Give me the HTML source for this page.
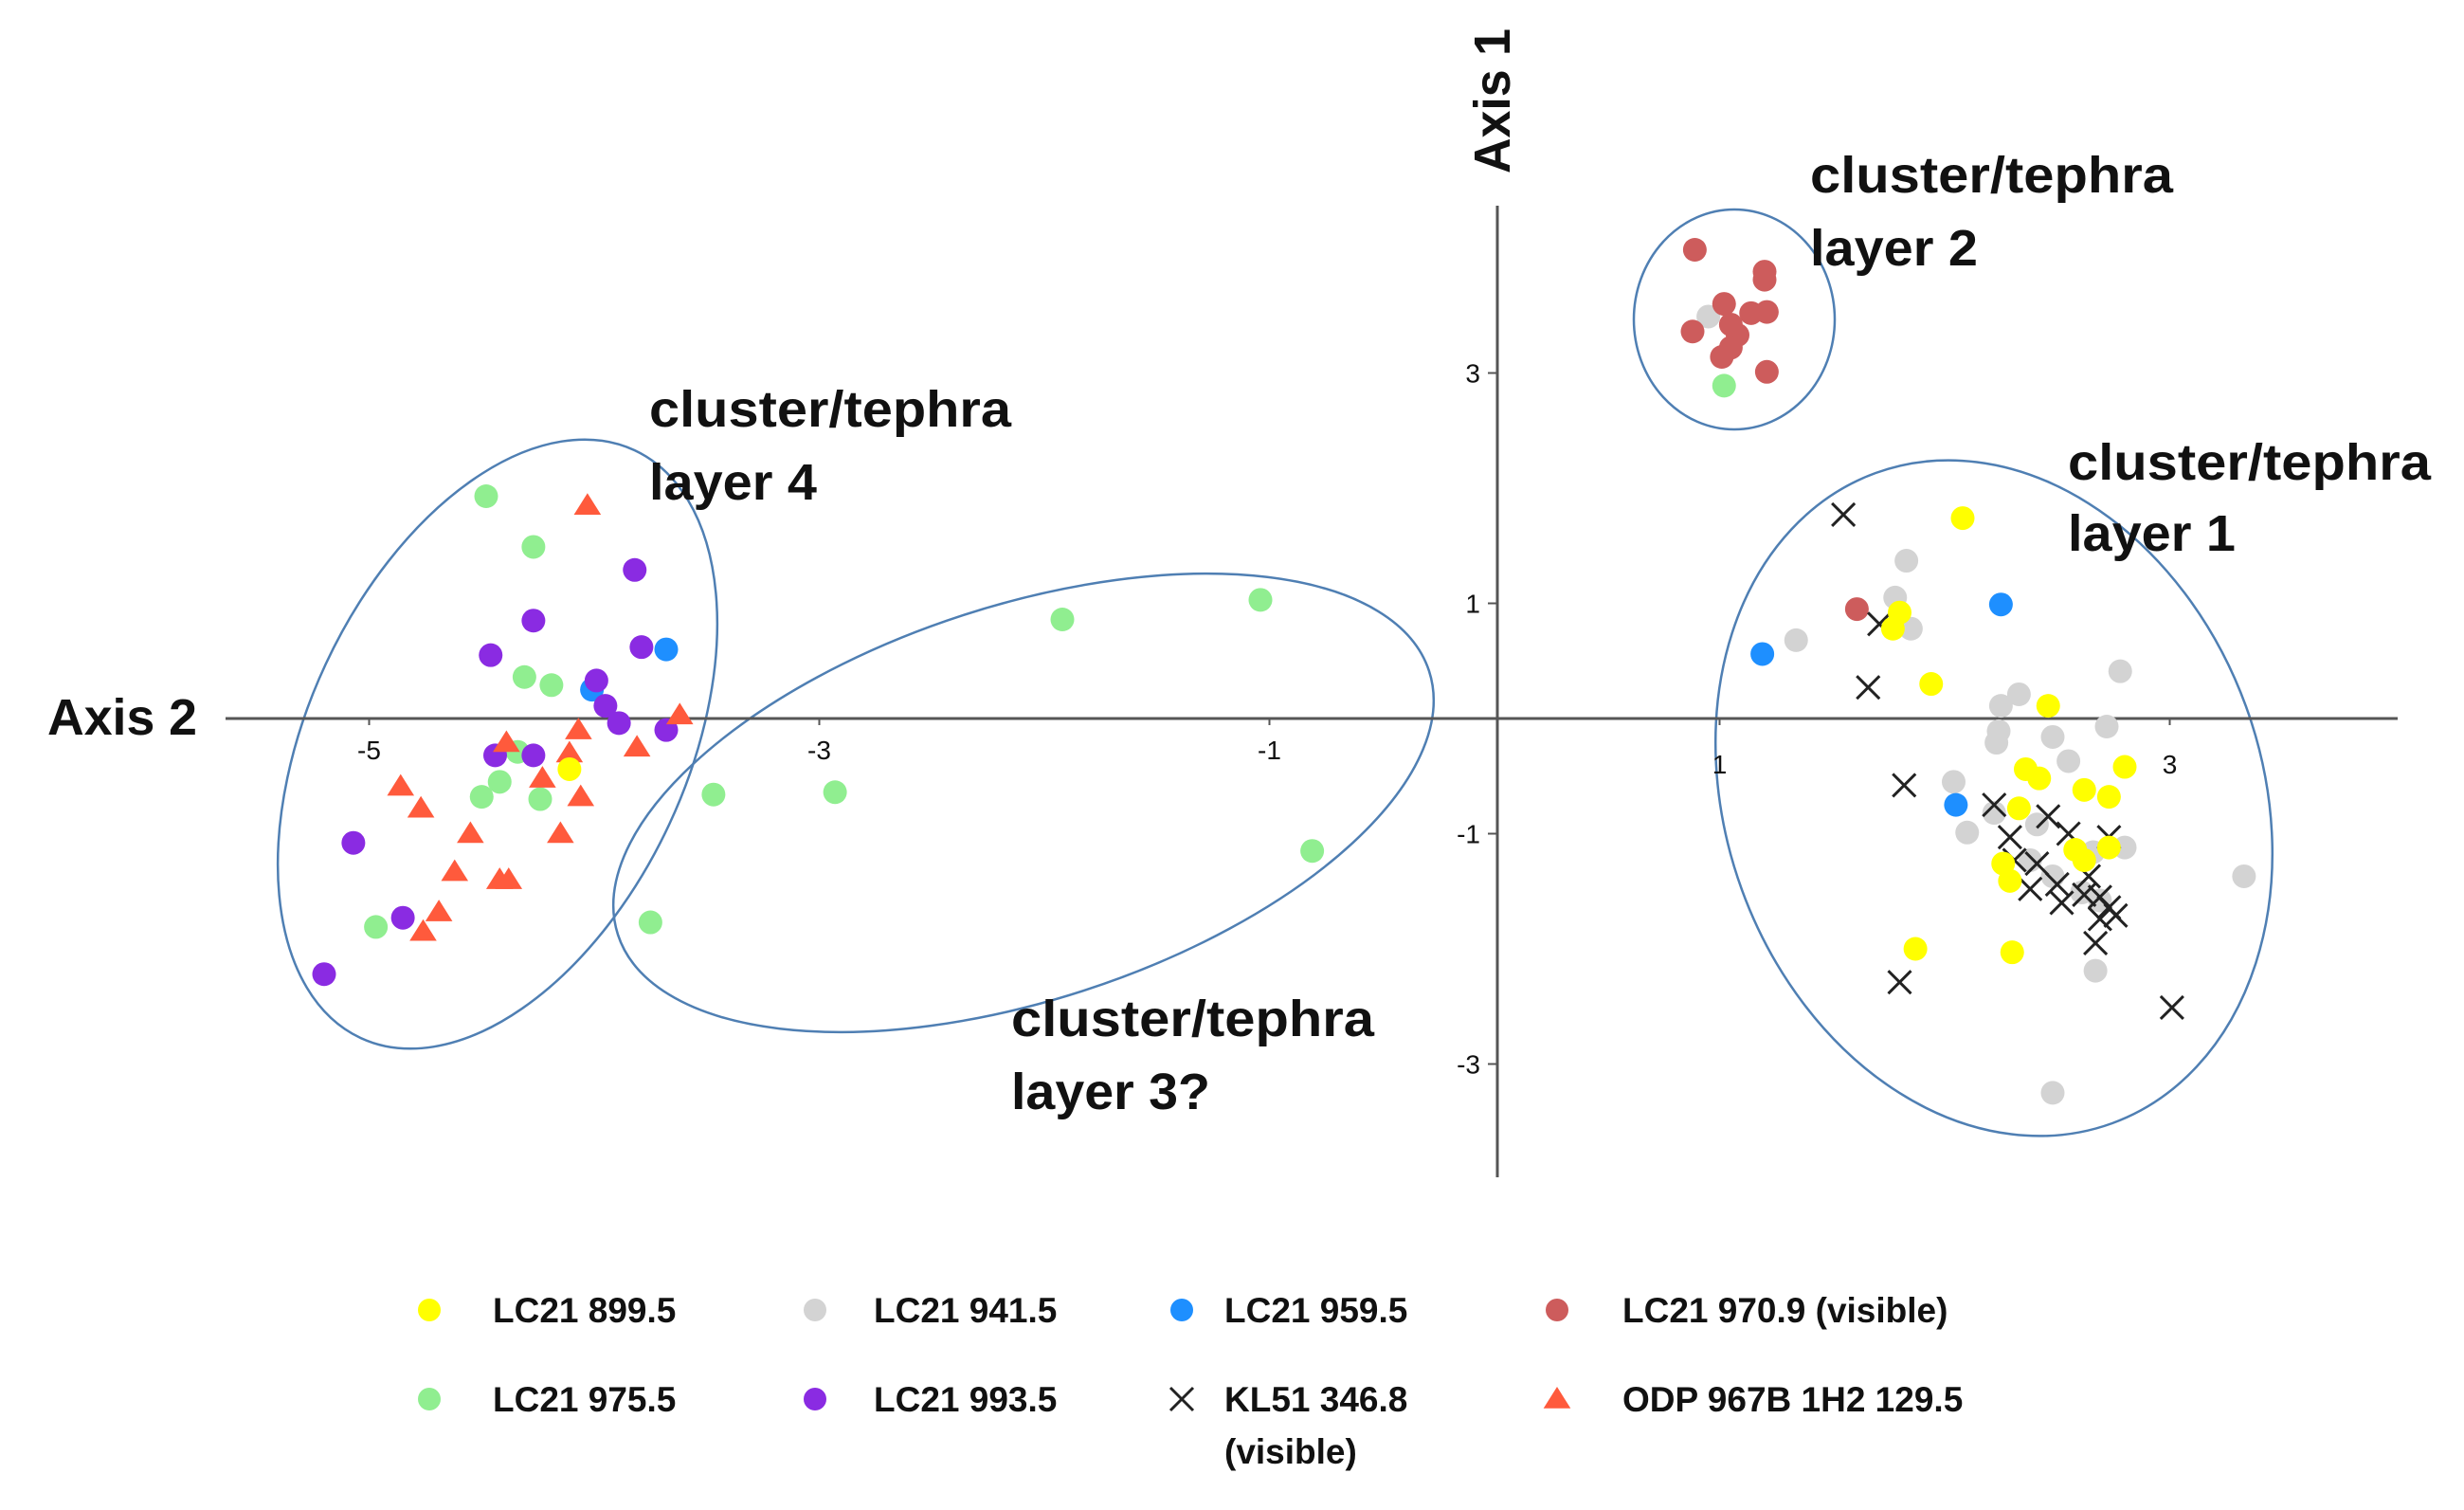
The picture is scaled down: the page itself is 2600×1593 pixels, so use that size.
<!DOCTYPE html>
<html><head><meta charset="utf-8"><style>
html,body{margin:0;padding:0;background:#fff;}
svg{display:block;font-family:"Liberation Sans",sans-serif;}
</style></head><body>
<svg id="chart" width="2600" height="1593" viewBox="0 0 2600 1593" xmlns="http://www.w3.org/2000/svg">
<g id="ellipses" fill="none" stroke="#4f7fb3" stroke-width="2.5">
 <ellipse cx="525" cy="785" rx="200" ry="342" transform="rotate(25 525 785)"/>
 <ellipse cx="1080" cy="847" rx="450" ry="208" transform="rotate(-18 1080 847)"/>
 <ellipse cx="1830" cy="337" rx="106" ry="116"/>
 <ellipse cx="2104" cy="842" rx="283" ry="365" transform="rotate(-20 2104 842)"/>
</g>
<g id="axes"></g>
<g id="marks"></g>
<g font-weight="bold" font-size="54" fill="#111">
 <text x="1910" y="203" textLength="383" lengthAdjust="spacingAndGlyphs">cluster/tephra</text>
 <text x="1910" y="280" textLength="177" lengthAdjust="spacingAndGlyphs">layer 2</text>
 <text x="685" y="450" textLength="382" lengthAdjust="spacingAndGlyphs">cluster/tephra</text>
 <text x="685" y="527" textLength="177" lengthAdjust="spacingAndGlyphs">layer 4</text>
 <text x="2182" y="506" textLength="383" lengthAdjust="spacingAndGlyphs">cluster/tephra</text>
 <text x="2182" y="581" textLength="177" lengthAdjust="spacingAndGlyphs">layer 1</text>
 <text x="1067" y="1093" textLength="383" lengthAdjust="spacingAndGlyphs">cluster/tephra</text>
 <text x="1067" y="1170" textLength="210" lengthAdjust="spacingAndGlyphs">layer 3?</text>
 <text x="50" y="775" textLength="158" lengthAdjust="spacingAndGlyphs">Axis 2</text>
 <text x="1593" y="183" transform="rotate(-90 1593 183)" textLength="153" lengthAdjust="spacingAndGlyphs">Axis 1</text>
</g>
<g id="legend" font-weight="bold" font-size="37" fill="#111"></g>
</svg>
<script>
const X0 = 1577, XU = 237.5, Y0 = 758, YU = 121.5;
function sx(v){ return X0 + v*XU; }
function sy(v){ return Y0 - v*YU; }

const xTicks = [-5,-3,-1,1,3];
const yTicks = [3,1,-1,-3];

const yellowX = [2.08,1.80,1.77,1.94,2.46,2.36,2.42,2.80,2.62,2.73,2.33,2.58,2.62,2.73,2.26,2.29,1.87,2.30,-4.11];
const yellowY = [1.74,0.92,0.78,0.30,0.11,-0.44,-0.52,-0.42,-0.62,-0.68,-0.78,-1.14,-1.23,-1.12,-1.26,-1.41,-2.00,-2.03,-0.44];
const grayX = [1.83,1.78,1.85,1.34,2.78,2.33,2.25,2.24,2.23,2.48,2.72,2.55,2.04,2.10,2.22,2.41,2.38,2.66,2.80,2.48,2.61,2.69,2.67,3.33,2.48,0.95];
const grayY = [1.37,1.05,0.78,0.68,0.41,0.21,0.11,-0.11,-0.21,-0.16,-0.07,-0.37,-0.55,-0.99,-0.82,-0.92,-1.23,-1.16,-1.12,-1.37,-1.51,-1.58,-2.19,-1.37,-3.25,3.49];
const blueX = [1.19,2.25,2.05,-3.68,-4.01];
const blueY = [0.56,0.99,-0.75,0.60,0.25];
const redX = [0.89,1.20,1.20,1.02,0.88,1.05,1.14,1.21,1.08,1.05,1.01,1.21,1.61];
const redY = [4.07,3.88,3.81,3.60,3.36,3.42,3.52,3.53,3.33,3.22,3.14,3.01,0.95];
const greenX = [1.02,-4.48,-4.27,-4.31,-4.19,-4.34,-4.42,-4.50,-4.24,-4.97,-3.75,-3.47,-2.93,-1.92,-1.04,-0.81];
const greenY = [2.89,1.93,1.49,0.36,0.29,-0.29,-0.55,-0.68,-0.70,-1.81,-1.77,-0.66,-0.64,0.86,1.03,-1.15];
const purpleX = [-3.82,-4.27,-4.46,-3.79,-3.99,-3.95,-3.89,-3.68,-4.44,-4.27,-5.07,-4.85,-5.20];
const purpleY = [1.29,0.85,0.55,0.62,0.33,0.11,-0.04,-0.10,-0.32,-0.32,-1.08,-1.73,-2.22];
const klX = [1.55,1.71,1.66,1.82,2.22,2.46,2.29,2.73,2.55,2.41,2.50,2.38,2.62,2.52,2.69,2.73,2.69,2.67,1.80,3.01,2.31,2.64,2.76];
const klY = [1.77,0.82,0.27,-0.58,-0.75,-0.85,-1.03,-1.03,-1.00,-1.26,-1.44,-1.48,-1.53,-1.60,-1.55,-1.64,-1.74,-1.95,-2.29,-2.51,-1.23,-1.37,-1.71];
const odpX = [-4.03,-3.62,-4.07,-4.39,-3.81,-4.11,-4.06,-4.86,-4.77,-4.55,-4.15,-4.62,-4.42,-4.38,-4.69,-4.76,-4.23];
const odpY = [1.85,0.03,-0.10,-0.21,-0.25,-0.30,-0.68,-0.59,-0.78,-1.00,-1.00,-1.33,-1.40,-1.40,-1.68,-1.85,-0.52];

const legendLabels = ["LC21 899.5","LC21 941.5","LC21 959.5","LC21 970.9 (visible)","LC21 975.5","LC21 993.5","KL51 346.8","ODP 967B 1H2 129.5"];

const NS = "http://www.w3.org/2000/svg";
function mk(tag, attrs, parent){ const e=document.createElementNS(NS,tag); for(const k in attrs) e.setAttribute(k,attrs[k]); parent.appendChild(e); return e; }

const axes = document.getElementById('axes');
const hx = mk('line',{x1:238,y1:Y0,x2:2530,y2:Y0,stroke:'#555',"stroke-width":3},axes);


const vy = mk('line',{x1:X0+3,y1:217,x2:X0+3,y2:1242,stroke:'#555',"stroke-width":3},axes);


xTicks.forEach(t=>{
  const tk = mk('line',{x1:sx(t),y1:Y0,x2:sx(t),y2:Y0+7,stroke:'#555',"stroke-width":2},axes);
  
  
  const lb = mk('text',{x:sx(t),y:t<0?801:816,"text-anchor":"middle","font-size":28,fill:'#111'},axes);
  
  
  lb.textContent = String(t);
});
yTicks.forEach(t=>{
  const tk = mk('line',{x1:X0-7,y1:sy(t),x2:X0+3,y2:sy(t),stroke:'#555',"stroke-width":2},axes);
  
  
  const lb = mk('text',{x:X0-15,y:sy(t)+10,"text-anchor":"end","font-size":28,fill:'#111'},axes);
  
  
  lb.textContent = String(t);
});

const marks = document.getElementById('marks');
function dots(xs, ys, color, name){
  xs.forEach((v,i)=>{
    const c = mk('circle',{cx:sx(v),cy:sy(ys[i]),r:12.5,fill:color},marks);
    
    
  });
}
function tri(cx,cy,s,parent){
  return mk('polygon',{points:`${cx},${cy-s} ${cx-s*1.1},${cy+s*0.75} ${cx+s*1.1},${cy+s*0.75}`,fill:'#ff5a3c'},parent);
}
function cross(cx,cy,s,parent){
  return mk('path',{d:`M${cx-s},${cy-s}L${cx+s},${cy+s}M${cx-s},${cy+s}L${cx+s},${cy-s}`,stroke:'#222',"stroke-width":3,fill:'none'},parent);
}
dots(grayX, grayY, '#d3d3d3', 'point-lc21-941-5');
dots(blueX, blueY, '#1e8fff', 'point-lc21-959-5');
dots(redX, redY, '#cd5c5c', 'point-lc21-970-9');
dots(greenX, greenY, '#90ee90', 'point-lc21-975-5');
dots(purpleX, purpleY, '#8a2be2', 'point-lc21-993-5');
odpX.forEach((v,i)=>{
  const t = tri(sx(v),sy(odpY[i]),13,marks);
  
  
});
klX.forEach((v,i)=>{
  const c = cross(sx(v),sy(klY[i]),12,marks);
  
  
});
dots(yellowX, yellowY, '#ffff00', 'point-lc21-899-5');

const legend = document.getElementById('legend');
const colors = ['#ffff00','#d3d3d3','#1e8fff','#cd5c5c','#90ee90','#8a2be2',null,null];
const mxs = [453,860,1247,1643];
const txs = [520,922,1292,1712];
const rowsY = [1382,1476];
legendLabels.forEach((lab,i)=>{
  const col = i%4, row = Math.floor(i/4);
  const g = mk('g',{},legend);
  
  
  const mx = mxs[col], my = rowsY[row];
  if(i===6){ cross(mx,my,12,g); }
  else if(i===7){ tri(mx,my,13,g); }
  else { mk('circle',{cx:mx,cy:my,r:12,fill:colors[i]},g); }
  const t = mk('text',{x:txs[col],y:my+13},g);
  t.textContent = lab;
  if(i===6){
    const t2 = mk('text',{x:txs[col],y:my+68},g);
    t2.textContent = '(visible)';
  }
});
</script>
</body></html>
